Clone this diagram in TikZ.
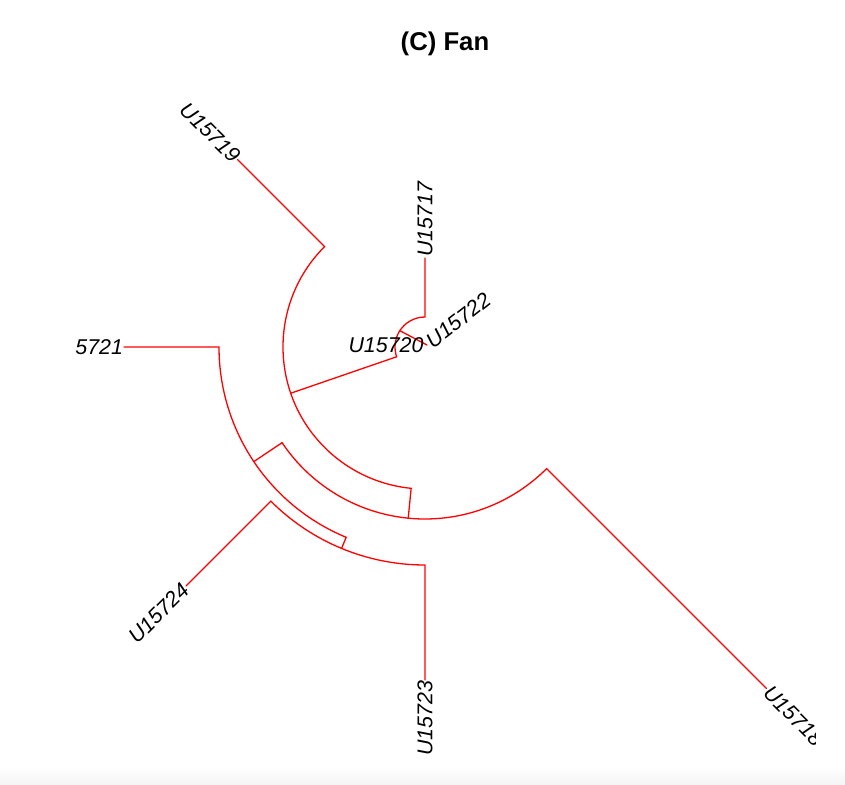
\documentclass[tikz,border=0pt]{standalone}
\usepackage{fontspec}
\setmainfont{Liberation Sans}
\newcommand\tipfont{\itshape\fontsize{21.4}{25}\selectfont}
\newcommand\titlefont{\bfseries\fontsize{25.7}{30}\selectfont}
\begin{document}
\begin{tikzpicture}[x=1pt,y=1pt,
  br/.style={draw=red, line width=1.3pt, line cap=round},
  tip/.style={inner sep=0.8pt, font=\tipfont}]
\useasboundingbox (-425,-437) rectangle (420,347);
\shade[top color=white, bottom color=gray!8] (-425,-419) rectangle (420,-437);
% tree points (origin = root of the fan)
\coordinate (c) at (0,0);
\coordinate (a17) at (90:30);
\coordinate (t17) at (90:89);
\coordinate (a22) at (147:30);
\coordinate (t22) at (2,2);
\coordinate (a20) at (199:30);
\coordinate (b20) at (199:142);
\coordinate (b19) at (135:142);
\coordinate (t19) at (135:265);
\coordinate (eA) at (264.4:172);
\coordinate (eD) at (213.8:172);
\coordinate (t18) at (315:483);
\coordinate (dD) at (213.8:206);
\coordinate (d21) at (180:206);
\coordinate (t21) at (180:301);
\coordinate (cC) at (247.5:218);
\coordinate (c24) at (225:218);
\coordinate (t24) at (225:338);
\coordinate (t23) at (270:333);
% branches
\draw[br] (t17) -- (a17) arc[start angle=90, end angle=199, radius=30];
\draw[br] (a22) -- (t22);
\draw[br] (a20) -- (b20);
\draw[br] (t19) -- (b19) arc[start angle=135, end angle=264.4, radius=142] -- (eA);
\draw[br] (eD) arc[start angle=213.8, end angle=315, radius=172] -- (t18);
\draw[br] (eD) -- (dD);
\draw[br] (t21) -- (d21) arc[start angle=180, end angle=247.5, radius=206] -- (cC);
\draw[br] (t24) -- (c24) arc[start angle=225, end angle=270, radius=218] -- (t23);
% labels
\begin{scope}
\clip (-350,-437) rectangle (390,347);
\node[tip, anchor=west, rotate=90] (l17) at (t17) {U15717};
\node[tip, anchor=west, rotate=38] (l22) at (3,3) {U15722};
\node[tip, anchor=east] (l20) at (-0.5,1.5) {U15720};
\node[tip, anchor=east, rotate=-45] (l19) at (t19) {U15719};
\node[tip, anchor=east] (l21) at (t21) {U15721};
\node[tip, anchor=east, rotate=45] (l24) at (t24) {U15724};
\node[tip, anchor=east, rotate=90] (l23) at (t23) {U15723};
\node[tip, anchor=west, rotate=-45] (l18) at (t18) {U15718};
\end{scope}
\node[font=\titlefont] (title) at (20,303) {(C) Fan};
\end{tikzpicture}
\end{document}
